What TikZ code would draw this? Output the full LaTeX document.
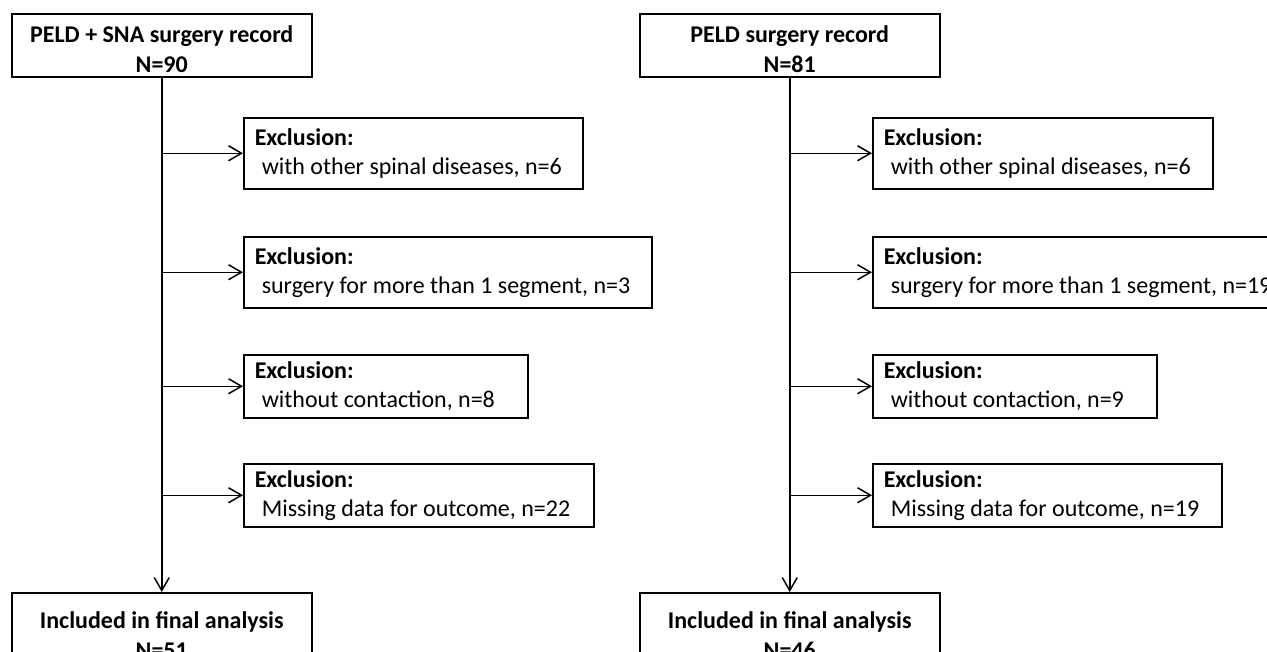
\documentclass[tikz,border=0pt]{standalone}
\usepackage{fontspec}
\setmainfont{Carlito}
\usetikzlibrary{arrows.meta,positioning}
\tikzset{
headbox/.style={
  draw=black,
  line width=1.5pt,
  minimum width=300pt,
  minimum height=63pt,
  inner sep=0pt,
  align=center,
  anchor=north west,
  font=\fontsize{24}{30}\selectfont\bfseries
  },
exbox/.style 2 args={
  draw=black,
  line width=1.5pt,
  anchor=north west,
  text width=#1,
  minimum height=#2,
  inner xsep=11pt,
  inner ysep=0pt,
  align=flush left,
  font=\fontsize{24}{29}\selectfont
  }
}
\newcommand{\hd}{\rule{0pt}{25pt}}
\newcommand{\ind}{\hspace*{7pt}}

\begin{document}
\begin{tikzpicture}[x=1pt,y=-1pt,>={Straight Barb[length=13pt,width=15pt]},
  line width=1.5pt]
\useasboundingbox (0,0) rectangle (1267,651);
\clip (0,0) rectangle (1267,651);

% PELD + SNA
\node[headbox] (top1) at (11,13) {\hd PELD + SNA surgery record\\N=90};
\node[exbox={317pt}{71pt}] (exa1) at (243,117)
  {\textbf{Exclusion:}\\\ind with other spinal diseases, n=6};
\node[exbox={386pt}{71pt}] (exa2) at (243,236)
  {\textbf{Exclusion:}\\\ind surgery for more than 1 segment, n=3};
\node[exbox={262pt}{63pt}] (exa3) at (243,354)
  {\textbf{Exclusion:}\\\ind without contaction, n=8};
\node[exbox={328pt}{63pt}] (exa4) at (243,463)
  {\textbf{Exclusion:}\\\ind Missing data for outcome, n=22};
\node[headbox,minimum height=77pt] (fin1) at (11,592)
  {\hd Included in final analysis\\N=51};

% PELD
\node[headbox] (top2) at (639,13) {\hd PELD surgery record\\N=81};
\node[exbox={318pt}{71pt}] (exb1) at (872,117)
  {\textbf{Exclusion:}\\\ind with other spinal diseases, n=6};
\node[exbox={396pt}{71pt}] (exb2) at (872,236)
  {\textbf{Exclusion:}\\\ind surgery for more than 1 segment, n=19};
\node[exbox={262pt}{63pt}] (exb3) at (872,354)
  {\textbf{Exclusion:}\\\ind without contaction, n=9};
\node[exbox={327pt}{63pt}] (exb4) at (872,463)
  {\textbf{Exclusion:}\\\ind Missing data for outcome, n=19};
\node[headbox,minimum height=77pt] (fin2) at (639,592)
  {\hd Included in final analysis\\N=46};

\draw[->] (top1) -- (fin1);
\draw[->] (top2) -- (fin2);
\foreach \i in {1,...,4}{
  \draw[->] (top1.south |- exa\i.west) -- (exa\i.west);
  \draw[->] (top2.south |- exb\i.west) -- (exb\i.west);
}
\end{tikzpicture}
\end{document}
